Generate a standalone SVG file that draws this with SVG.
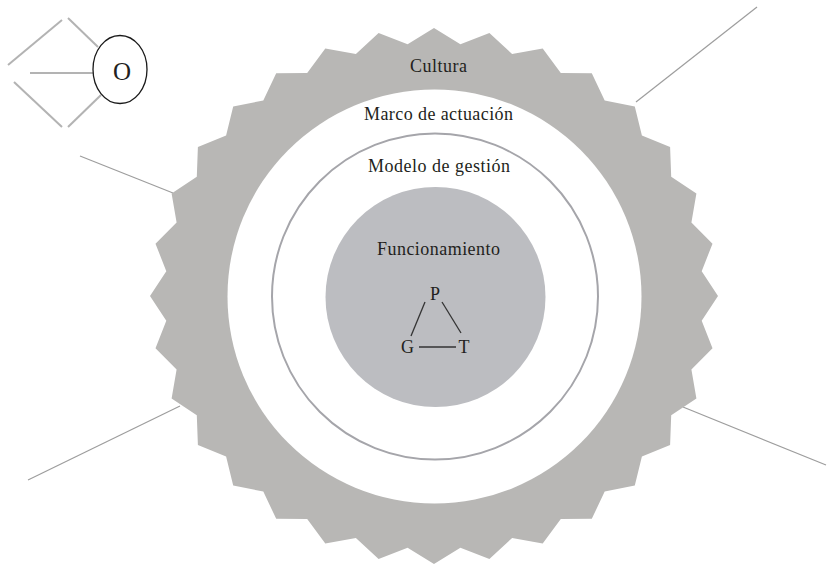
<svg xmlns="http://www.w3.org/2000/svg" width="835" height="565" viewBox="0 0 835 565">
<style>
.lbl{font-family:"Liberation Serif","Times New Roman",serif;fill:#231f20;text-anchor:middle}
.ring{font-size:18px}
.conn{stroke:#9d9d9d;stroke-width:1.2;fill:none}
.olink{stroke:#b3b3b3;stroke-width:2;fill:none}
.tri{stroke:#333;stroke-width:1.3;fill:none}
</style>
<rect width="835" height="565" fill="#ffffff"/>
<g id="connectors">
<line class="conn" x1="636" y1="102" x2="757" y2="7"/>
<line class="conn" x1="80" y1="156" x2="173" y2="193"/>
<line class="conn" x1="28" y1="480" x2="180" y2="406"/>
<line class="conn" x1="683" y1="407" x2="826" y2="465"/>
</g>
<g id="cultura">
<polygon fill="#b8b7b5" points="434,28 460.4,44.2 489.4,33.1 512.1,53.9 542.7,48.4 560.8,72.9 591.8,73.2 604.7,100.4 634.8,106.5 641.9,135.5 670.1,147.1 671.2,176.7 696.4,193.4 691.4,222.6 712.5,243.7 701.7,271.2 718,296 701.7,320.8 712.5,348.3 691.4,369.4 696.4,398.6 671.2,415.3 670.1,444.9 641.9,456.5 634.8,485.5 604.7,491.6 591.8,518.8 560.8,519.1 542.7,543.6 512.1,538.1 489.4,558.9 460.4,547.8 434,564 407.6,547.8 378.6,558.9 355.9,538.1 325.3,543.6 307.2,519.1 276.2,518.8 263.3,491.6 233.2,485.5 226.1,456.5 197.9,444.9 196.8,415.3 171.6,398.6 176.6,369.4 155.5,348.3 166.3,320.8 150,296 166.3,271.2 155.5,243.7 176.6,222.6 171.6,193.4 196.8,176.7 197.9,147.1 226.1,135.5 233.2,106.5 263.3,100.4 276.2,73.2 307.2,72.9 325.3,48.4 355.9,53.9 378.6,33.1 407.6,44.2"/>
<text class="lbl ring" x="438.5" y="72" textLength="57" lengthAdjust="spacing">Cultura</text>
</g>
<g id="marco">
<circle cx="434.5" cy="296.5" r="207" fill="#ffffff"/>
<text class="lbl ring" x="438.5" y="120" textLength="149" lengthAdjust="spacing">Marco de actuación</text>
</g>
<g id="modelo">
<circle cx="435" cy="296.5" r="163" fill="none" stroke="#a5a5aa" stroke-width="2"/>
<text class="lbl ring" x="439" y="172" textLength="142" lengthAdjust="spacing">Modelo de gestión</text>
</g>
<g id="funcionamiento">
<circle cx="435.5" cy="297" r="110" fill="#bcbdc1"/>
<text class="lbl ring" x="438.5" y="255" textLength="123" lengthAdjust="spacing">Funcionamiento</text>
</g>
<g id="triangulo">
<text class="lbl" x="435" y="300" font-size="18">P</text>
<text class="lbl" x="407.5" y="353" font-size="18">G</text>
<text class="lbl" x="464" y="353" font-size="18">T</text>
<line class="tri" x1="425" y1="302" x2="411" y2="336"/>
<line class="tri" x1="442" y1="302" x2="461" y2="333"/>
<line class="tri" x1="419" y1="347" x2="456" y2="347"/>
</g>
<g id="organizacion">
<line class="olink" x1="8" y1="65" x2="62" y2="20"/>
<line class="olink" x1="68" y1="18" x2="98" y2="47"/>
<line class="olink" x1="30" y1="73" x2="93" y2="73"/>
<line class="olink" x1="14" y1="82" x2="62" y2="127"/>
<line class="olink" x1="68" y1="127" x2="101" y2="95"/>
<ellipse cx="120" cy="69.5" rx="27" ry="34" fill="#ffffff" stroke="#1a1a1a" stroke-width="1.3"/>
<text class="lbl" x="122" y="80" font-size="25">O</text>
</g>
</svg>
